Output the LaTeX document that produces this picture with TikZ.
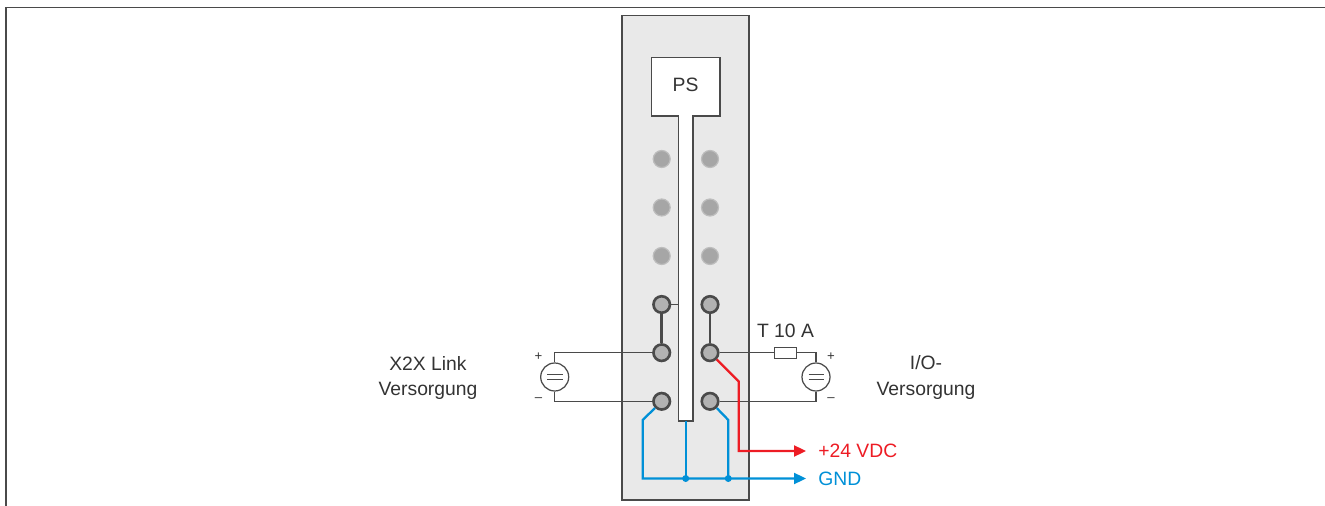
\documentclass[tikz,border=0pt]{standalone}
\usepackage{fontspec}
\setmainfont{Liberation Sans}
\usetikzlibrary{arrows.meta}

\definecolor{modgray}{HTML}{E9E9E9}
\definecolor{linegray}{HTML}{4A4A4A}
\definecolor{pingray}{HTML}{B2B2B2}
\definecolor{ledgray}{HTML}{A6A6A6}
\definecolor{ledrim}{HTML}{BDBDBD}
\definecolor{plusred}{HTML}{ED1C24}
\definecolor{gndblue}{HTML}{0090D7}

\tikzset{
	label/.style={font=\fontsize{11}{13}\selectfont, text=black!80, inner sep=0pt},
	sign/.style={font=\fontsize{7.5}{9}\selectfont, text=black!80, inner sep=0pt},
	pin/.style={circle, draw=linegray, line width=1.5pt, fill=pingray, minimum size=16.5*0.02cm, inner sep=0pt},
	led/.style={circle, draw=ledrim, line width=0.7pt, fill=ledgray, minimum size=17*0.02cm, inner sep=0pt},
	source/.style={circle, draw=linegray, line width=0.7pt, fill=white, minimum size=28*0.02cm, inner sep=0pt},
	fuse/.style={rectangle, draw=linegray, line width=0.7pt, fill=white, minimum width=22*0.02cm, minimum height=11*0.02cm, inner sep=0pt},
	dot/.style={circle, fill=gndblue, minimum size=7*0.02cm, inner sep=0pt},
	wire/.style={draw=linegray, line width=0.8pt},
	jumper/.style={draw=linegray, line width=1.5pt},
	redwire/.style={draw=plusred, line width=1.3pt, line join=miter},
	bluewire/.style={draw=gndblue, line width=1.3pt, line join=miter},
	tip/.style={-{Triangle[length=12*0.02cm, width=11*0.02cm]}}
}

\begin{document}
\begin{tikzpicture}[x=0.02cm, y=-0.02cm]
	\useasboundingbox (0,0) rectangle (1325,506);

	% frame
	\draw [linegray, line width=0.85pt] (6,506) -- (6,7.5) -- (1325,7.5);

	% module
	\draw [linegray, line width=0.8pt, fill=modgray] (622,15.5) rectangle (749,500);
	\draw [linegray, line width=0.8pt, fill=white] (651.5,57.5) -- (720,57.5) -- (720,116)
		-- (693,116) -- (693,421) -- (678.5,421) -- (678.5,116) -- (651.5,116) -- cycle;
	\node [label] (ps) at (685.5,85) {PS};

	\node [led] (led1l) at (661.7,159) {};
	\node [led] (led1r) at (710,159) {};
	\node [led] (led2l) at (661.7,207.5) {};
	\node [led] (led2r) at (710,207.5) {};
	\node [led] (led3l) at (661.7,256) {};
	\node [led] (led3r) at (710,256) {};

	\node [pin] (pin1l) at (661.7,304.5) {};
	\node [pin] (pin1r) at (710,304.5) {};
	\node [pin] (pin2l) at (661.7,352.7) {};
	\node [pin] (pin2r) at (710,352.7) {};
	\node [pin] (pin3l) at (661.7,401.3) {};
	\node [pin] (pin3r) at (710,401.3) {};

	\coordinate (stem) at (678.5,304.5);
	\draw [jumper, line width=1pt] (pin1l) -- (stem);
	\draw [jumper] (pin1l) -- (pin2l);
	\draw [jumper] (pin1r) -- (pin2r);

	% sources
	\node [source] (srcl) at (554.7,377) {};
	\node [source] (srcr) at (816,377) {};
	\draw [linegray, line width=0.7pt] (547,374.5) -- (562.5,374.5) (547,379.5) -- (562.5,379.5);
	\draw [linegray, line width=0.7pt] (808.5,374.5) -- (824,374.5) (808.5,379.5) -- (824,379.5);
	\node [fuse] (fuse) at (785.7,352.7) {};

	\draw [wire] (pin2l) -- (pin2l -| srcl) -- (srcl);
	\draw [wire] (pin3l) -- (pin3l -| srcl) -- (srcl);
	\draw [wire] (pin2r) -- (fuse);
	\draw [wire] (fuse) -- (fuse -| srcr) -- (srcr);
	\draw [wire] (pin3r) -- (pin3r -| srcr) -- (srcr);

	\node [sign] (plusl) at (538.5,357) {+};
	\node [sign] (minusl) at (538.5,400) {--};
	\node [sign] (plusr) at (831,357) {+};
	\node [sign] (minusr) at (831,400) {--};

	% outputs
	\node [label, anchor=west, text=plusred] (vdc) at (818,451) {+24 VDC};
	\node [label, anchor=west, text=gndblue] (gnd) at (818,478.5) {GND};
	\coordinate (vdcend) at (806,451);
	\coordinate (gndend) at (806,478.5);

	\node [dot] (dotm) at (685.7,478.5) {};
	\node [dot] (dotr) at (728.3,478.5) {};

	\draw [redwire, tip] (pin2r.-45) -- (738.7,381.5) -- (738.7,451) -- (vdcend);
	\draw [bluewire, tip] (pin3l.-135) -- (642.7,420) -- (642.7,478.5) -- (gndend);
	\draw [bluewire] (pin3r.-45) -- (728.3,420) -- (dotr.center);
	\draw [bluewire] (685.7,421) -- (dotm.center);

	% labels
	\node [label] (t10a) at (785.5,331) {T 10 A};
	\node [label] (x2x) at (428,363) {X2X Link};
	\node [label] (vers1) at (428,390.5) {Versorgung};
	\node [label] (io) at (926,363) {I/O-};
	\node [label] (vers2) at (926,390.5) {Versorgung};
\end{tikzpicture}
\end{document}
